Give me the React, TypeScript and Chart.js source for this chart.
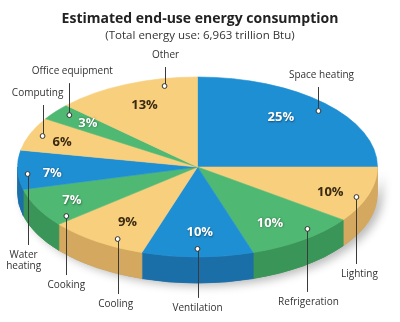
import React, { useEffect, useRef } from "react";
import { Chart, registerables } from "chart.js";

Chart.register(...registerables);

// ---- data ----
const categories = [
  "Space heating",
  "Lighting",
  "Refrigeration",
  "Ventilation",
  "Cooling",
  "Cooking",
  "Water heating",
  "Computing",
  "Office equipment",
  "Other",
];
const shares = [25, 10, 10, 10, 9, 7, 7, 6, 3, 13];
const percentLabels = ["25%", "10%", "10%", "10%", "9%", "7%", "7%", "6%", "3%", "13%"];
const calloutLines = [
  ["Space heating"],
  ["Lighting"],
  ["Refrigeration"],
  ["Ventilation"],
  ["Cooling"],
  ["Cooking"],
  ["Water", "heating"],
  ["Computing"],
  ["Office equipment"],
  ["Other"],
];
const titleText = "Estimated end-use energy consumption";
const subtitleText = "(Total energy use: 6,963 trillion Btu)";

// ---- styles ----
const BLUE = "#1f8fd3";
const YELLOW = "#f8cf7c";
const GREEN = "#4fb872";
const BLUE_SIDE = "#1a6fa9";
const YELLOW_SIDE = "#d4a95f";
const GREEN_SIDE = "#3a9658";
const topColors = [BLUE, YELLOW, GREEN, BLUE, YELLOW, GREEN, BLUE, YELLOW, GREEN, YELLOW];
const sideColors = [BLUE_SIDE, YELLOW_SIDE, GREEN_SIDE, BLUE_SIDE, YELLOW_SIDE, GREEN_SIDE, BLUE_SIDE, YELLOW_SIDE, GREEN_SIDE, YELLOW_SIDE];
const DARK_TEXT = "#3a2a12";
const pctColors = ["#fff", DARK_TEXT, "#fff", "#fff", DARK_TEXT, "#fff", "#fff", DARK_TEXT, "#fff", DARK_TEXT];

// ---- layout ----
const CENTER_X = 197.5;
const CENTER_Y = 167;
const RADIUS = 180;
const TILT = 0.5;
const DEPTH = 26;
const pctAngleOffset = [-5, 3, 3, -1, -2, -1, -3, -1.6, 0.9, 0.3];
const pctRadius = [0.72, 0.79, 0.74, 0.73, 0.73, 0.79, 0.81, 0.8, 0.78, 0.75];
const dotAngleOffset = [2.2, 2.7, -5.6, 0, -5.2, -9.8, -2.9, 0.2, 1.2, 11.9];
const dotRadius = [0.916, 0.944, 0.92, 0.91, 0.915, 0.91, 0.947, 0.927, 0.916, 0.918];
const leaderLength = [-36, 77, 73, 59, 65, 69, 81, -43, -44, -31];
const labelDx = [3, 3, 1, 0, -2, 0, -4, -5, 3, 1];
const FONT = "'Open Sans', 'Noto Sans', sans-serif";

const pie3d = {
  id: "pie3d",
  beforeDatasetsDraw(chart: any) {
    const meta = chart.getDatasetMeta(0);
    const arcs = meta.data as any[];
    if (!arcs.length) return;
    const ctx: CanvasRenderingContext2D = chart.ctx;
    const rx = arcs[0].outerRadius;
    const ry = rx * TILT;
    const cx = CENTER_X;
    const cy = CENTER_Y;

    // soft shadow under the pie
    ctx.save();
    ctx.shadowColor = "rgba(0,0,0,0.28)";
    ctx.shadowBlur = 10;
    ctx.shadowOffsetX = 5;
    ctx.shadowOffsetY = 3;
    ctx.fillStyle = "#888";
    ctx.beginPath();
    ctx.ellipse(cx, cy, rx, ry, 0, 0, Math.PI);
    ctx.ellipse(cx, cy + DEPTH, rx, ry, 0, Math.PI, 0, true);
    ctx.closePath();
    ctx.fill();
    ctx.restore();

    // side walls
    arcs.forEach((a: any, i: number) => {
      const s = Math.max(a.startAngle, 0);
      const e = Math.min(a.endAngle, Math.PI);
      if (e <= s) return;
      ctx.save();
      ctx.fillStyle = sideColors[i];
      ctx.strokeStyle = sideColors[i];
      ctx.lineWidth = 0.8;
      ctx.beginPath();
      ctx.ellipse(cx, cy, rx, ry, 0, s, e);
      ctx.ellipse(cx, cy + DEPTH, rx, ry, 0, e, s, true);
      ctx.closePath();
      ctx.fill();
      ctx.stroke();
      ctx.restore();
    });

    // squash the top face
    ctx.save();
    ctx.translate(cx, cy);
    ctx.scale(1, TILT);
    ctx.translate(-arcs[0].x, -arcs[0].y);
  },
  afterDatasetsDraw(chart: any) {
    const ctx: CanvasRenderingContext2D = chart.ctx;
    const meta = chart.getDatasetMeta(0);
    const arcs = meta.data as any[];
    if (!arcs.length) return;
    ctx.restore();
    const rx = arcs[0].outerRadius;
    const ry = rx * TILT;
    const cx = CENTER_X;
    const cy = CENTER_Y;
    const deg = Math.PI / 180;

    arcs.forEach((a: any, i: number) => {
      const mid = (a.startAngle + a.endAngle) / 2;
      // percentage
      const pa = mid + pctAngleOffset[i] * deg;
      const px = cx + rx * pctRadius[i] * Math.cos(pa);
      const py = cy + ry * pctRadius[i] * Math.sin(pa);
      ctx.save();
      ctx.font = `bold 13px ${FONT}`;
      ctx.textAlign = "center";
      ctx.textBaseline = "middle";
      if (pctColors[i] === "#fff") {
        ctx.shadowColor = "rgba(0,0,0,0.45)";
        ctx.shadowBlur = 2;
        ctx.shadowOffsetX = 0.5;
        ctx.shadowOffsetY = 0.5;
      }
      ctx.fillStyle = pctColors[i];
      ctx.fillText(percentLabels[i], px, py);
      ctx.restore();

      // callout
      const da = mid + dotAngleOffset[i] * deg;
      const dx = cx + rx * dotRadius[i] * Math.cos(da);
      const dy = cy + ry * dotRadius[i] * Math.sin(da);
      const lines = calloutLines[i];
      const len = leaderLength[i];
      const up = len < 0;
      const labelY = dy + len;
      const endY = up ? labelY + 12 : labelY - 10;
      ctx.save();
      ctx.strokeStyle = "#3a3a3a";
      ctx.lineWidth = 1;
      ctx.beginPath();
      ctx.moveTo(Math.round(dx) + 0.5, dy);
      ctx.lineTo(Math.round(dx) + 0.5, endY);
      ctx.stroke();
      ctx.beginPath();
      ctx.arc(dx, dy, 2.4, 0, Math.PI * 2);
      ctx.fillStyle = "#fff";
      ctx.fill();
      ctx.lineWidth = 1;
      ctx.strokeStyle = "#333";
      ctx.stroke();
      ctx.font = `10px ${FONT}`;
      ctx.fillStyle = "#333";
      ctx.textAlign = "center";
      ctx.textBaseline = "middle";
      lines.forEach((t, k) => {
        ctx.fillText(t, dx + labelDx[i], labelY + k * 11);
      });
      ctx.restore();
    });
  },
};

export default function App() {
  const ref = useRef<HTMLCanvasElement | null>(null);
  useEffect(() => {
    if (!ref.current) return;
    const chart = new Chart(ref.current, {
      type: "pie",
      data: {
        labels: categories,
        datasets: [
          {
            data: shares,
            backgroundColor: topColors,
            borderColor: topColors,
            borderWidth: 0.8,
            radius: RADIUS,
            clip: false,
          } as any,
        ],
      },
      options: {
        responsive: false,
        maintainAspectRatio: false,
        animation: false,
        rotation: 0,
        layout: { padding: 0 },
        events: [],
        plugins: {
          legend: { display: false },
          tooltip: { enabled: false },
          title: {
            display: true,
            text: titleText,
            color: "#222",
            font: { family: FONT, size: 14, weight: "bold" },
            padding: { top: 11, bottom: 1 },
          },
          subtitle: {
            display: true,
            text: subtitleText,
            color: "#333",
            font: { family: FONT, size: 11.5 },
            padding: { top: 0, bottom: 4 },
          },
        },
      } as any,
      plugins: [pie3d],
    });
    return () => chart.destroy();
  }, []);
  return (
    <div style={{ position: "fixed", left: 0, top: 0, width: 400, height: 322, background: "#fff" }}>
      <canvas ref={ref} width={400} height={322} style={{ display: "block", width: 400, height: 322 }} />
    </div>
  );
}
